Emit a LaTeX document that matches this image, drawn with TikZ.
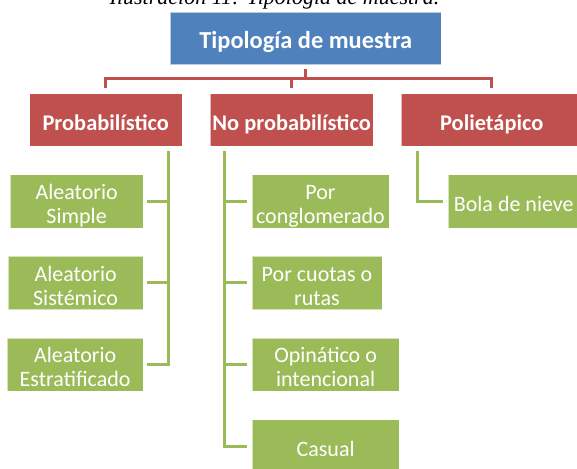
\documentclass[tikz,border=0pt]{standalone}
\usepackage{fontspec}
\setmainfont{Carlito}
\newfontfamily\capfont{Liberation Serif}
\definecolor{cblue}{HTML}{4F81BD}
\definecolor{cred}{HTML}{C0504D}
\definecolor{cgreen}{HTML}{9BBB59}
% text whose last baseline sits #1 below the node centre
\newcommand{\bxt}[2]{\raisebox{-#1}[0pt][0pt]{\begin{tabular}[b]{@{}c@{}}#2\end{tabular}}}
\tikzset{
  boxbase/.style={rectangle, anchor=north west, inner sep=0pt, align=center, text=white, draw=white, draw opacity=0.6, line width=0.5pt},
  bbox/.style={boxbase, fill=cblue, font=\bfseries\fontsize{24.4}{28}\selectfont},
  rbox/.style={boxbase, fill=cred, font=\bfseries\fontsize{22.4}{26}\selectfont, minimum height=52.7pt},
  gbox/.style={boxbase, fill=cgreen, font=\fontsize{22}{24}\selectfont, minimum height=53.4pt},
  rline/.style={draw=cred, line width=3pt},
  gline/.style={draw=cgreen, line width=3pt},
}
\begin{document}
\begin{tikzpicture}[x=1pt,y=-1pt]
\useasboundingbox (0,0) rectangle (577,468);
\clip (0,0) rectangle (577,468);
% caption
\node[anchor=base, inner sep=0pt, font=\capfont\itshape\fontsize{22}{26}\selectfont] (cap) at (274.5,5) {Ilustración 11: Tipología de muestra.};
% top
\node[bbox, minimum width=271pt, minimum height=52.6pt] (top) at (170,11.7) {\bxt{10.3pt}{Tipología de muestra}};
% level 1
\node[rbox, minimum width=152.4pt] (p1) at (29.3,93.3) {\bxt{10.3pt}{Probabilístico}};
\node[rbox, minimum width=162.7pt] (p2) at (210,93.3) {\bxt{10.3pt}{No probabilístico}};
\node[rbox, minimum width=181pt] (p3) at (401,93.3) {\bxt{10.3pt}{Polietápico}};
% left column
\node[gbox, minimum width=132.7pt] (a1) at (10,174.3) {\bxt{22.3pt}{Aleatorio\\Simple}};
\node[gbox, minimum width=134.7pt] (a2) at (8,256.0) {\bxt{22.3pt}{Aleatorio\\Sistémico}};
\node[gbox, minimum width=135.7pt] (a3) at (7,337.7) {\bxt{22.3pt}{Aleatorio\\Estratificado}};
% middle column
\node[gbox, minimum width=137pt] (b1) at (251.7,174.3) {\bxt{22.3pt}{Por\\conglomerado}};
\node[gbox, minimum width=130pt] (b2) at (251.7,256.0) {\bxt{22.3pt}{Por cuotas o\\rutas}};
\node[gbox, minimum width=147.3pt] (b3) at (251.7,337.7) {\bxt{22.3pt}{Opinático o\\intencional}};
\node[gbox, minimum width=147.3pt] (b4) at (251.7,419.4) {\bxt{10pt}{Casual}};
% right column
\node[gbox, minimum width=132pt] (c1) at (447.5,174.3) {\bxt{10pt}{Bola de nieve}};
% red connectors
\coordinate (bus) at (305.5,78.7);
\draw[rline] ([yshift=-4.7pt]top.south) -- (top.south |- bus);
\foreach \c in {p1,p2,p3}{
  \draw[rline] ([yshift=5.3pt]\c.north) |- (bus);
}
% green connectors
\coordinate (lv) at (168.3,150.7);
\coordinate (mv) at (224.3,150.7);
\coordinate (rv) at (417,150.7);
\foreach \c in {a1,a2,a3}{
  \draw[gline] (lv) |- ([xshift=4pt]\c.east);
}
\foreach \c in {b1,b2,b3,b4}{
  \draw[gline] (mv) |- ([xshift=-4.4pt]\c.west);
}
\draw[gline] (rv) |- ([xshift=-4.8pt]c1.west);
\end{tikzpicture}
\end{document}
